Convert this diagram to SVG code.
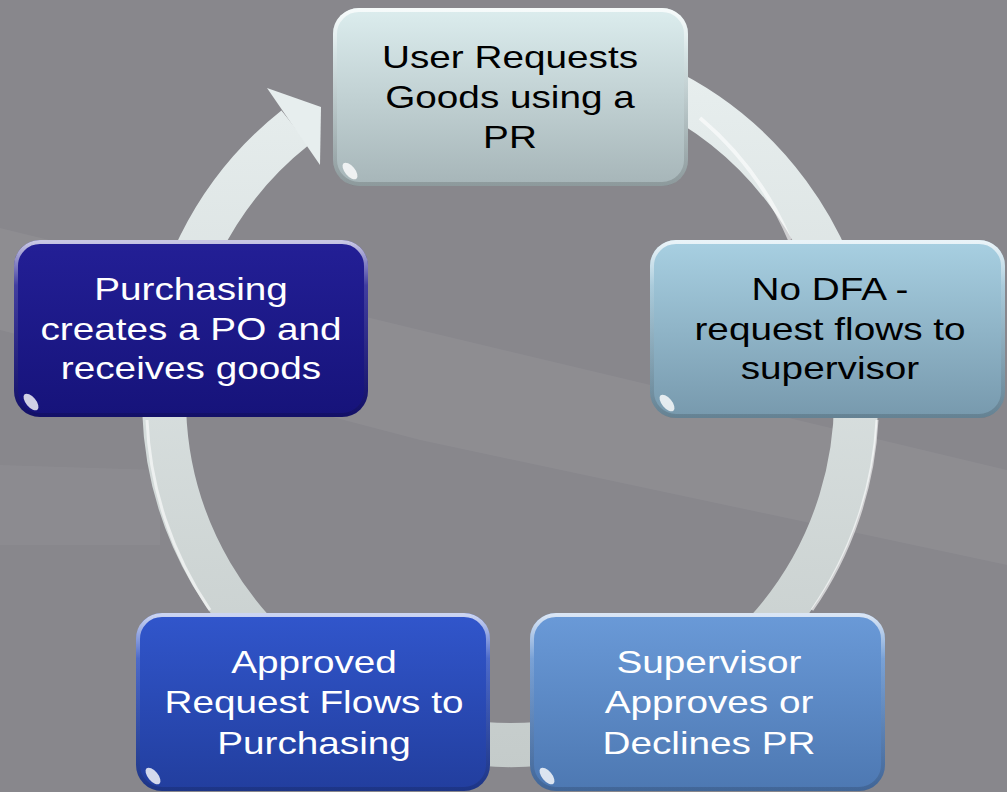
<svg xmlns="http://www.w3.org/2000/svg" width="1007" height="792" viewBox="0 0 1007 792">
<defs>
<linearGradient id="ringG" gradientUnits="userSpaceOnUse" x1="0" y1="40" x2="0" y2="770">
<stop offset="0" stop-color="#e9f0f0"/><stop offset="1" stop-color="#c4cbca"/>
</linearGradient>
<linearGradient id="g1" x1="0" y1="0" x2="0" y2="1"><stop offset="0" stop-color="#dcedee"/><stop offset="1" stop-color="#a6b5b8"/></linearGradient>
<linearGradient id="g2" x1="0" y1="0" x2="0" y2="1"><stop offset="0" stop-color="#a8d0e2"/><stop offset="1" stop-color="#7799ad"/></linearGradient>
<linearGradient id="g3" x1="0" y1="0" x2="0" y2="1"><stop offset="0" stop-color="#6a9ad8"/><stop offset="1" stop-color="#4d78b2"/></linearGradient>
<linearGradient id="g4" x1="0" y1="0" x2="0" y2="1"><stop offset="0" stop-color="#3156cc"/><stop offset="1" stop-color="#223e9e"/></linearGradient>
<linearGradient id="g5" x1="0" y1="0" x2="0" y2="1"><stop offset="0" stop-color="#231f96"/><stop offset="1" stop-color="#16137a"/></linearGradient>
<linearGradient id="bevel" x1="0" y1="0" x2="0" y2="1"><stop offset="0" stop-color="#ffffff" stop-opacity="0.75"/><stop offset="0.25" stop-color="#ffffff" stop-opacity="0.15"/><stop offset="1" stop-color="#000000" stop-opacity="0.15"/></linearGradient>
</defs>
<style>
.node{stroke:none}
.bev{fill:none;stroke:url(#bevel);stroke-width:4}
.spot{fill:#ffffff;opacity:0.8}
.t{font-family:"Liberation Sans",Arial,sans-serif;font-size:32px;text-anchor:middle}
.dark{fill:#000000}
.light{fill:#ffffff}
</style>
<rect x="0" y="0" width="1007" height="792" fill="#88878c"/>
<polygon points="0,228 420,330 1007,470 1007,565 420,440 0,330" fill="#ffffff" opacity="0.05"/>
<polygon points="0,465 160,470 160,545 0,545" fill="#ffffff" opacity="0.04"/>
<g id="connectors">
<path d="M 510 53 A 346 346 0 1 1 295.1 127.8" fill="none" stroke="url(#ringG)" stroke-width="44"/>
<path d="M 700 118 A 328 328 0 0 1 790 240" fill="none" stroke="#ffffff" stroke-opacity="0.6" stroke-width="4"/>
<path d="M 147 420 A 366 366 0 0 0 210 610" fill="none" stroke="#ffffff" stroke-opacity="0.6" stroke-width="3"/>
<path d="M 877 420 A 366 366 0 0 1 812 610" fill="none" stroke="#ffffff" stroke-opacity="0.6" stroke-width="3"/>
<polygon points="267,88 321,107 320,165" fill="#e7eeee"/>
</g>
<g id="node-user-requests">
<rect class="node" x="333" y="8" width="355" height="178" rx="26" fill="url(#g1)"/>
<rect class="bev" x="335" y="10" width="351" height="174" rx="24"/>
<ellipse class="spot" cx="350" cy="171" rx="5" ry="10" transform="rotate(-40 350 171)"/>
<g transform="translate(510 0) scale(1.21 1)">
<text class="t dark" x="0" y="68">User Requests</text>
<text class="t dark" x="0" y="108">Goods using a</text>
<text class="t dark" x="0" y="148">PR</text>
</g>
</g>
<g id="node-no-dfa">
<rect class="node" x="650" y="240" width="355" height="178" rx="26" fill="url(#g2)"/>
<rect class="bev" x="652" y="242" width="351" height="174" rx="24"/>
<ellipse class="spot" cx="667" cy="403" rx="5" ry="10" transform="rotate(-40 667 403)"/>
<g transform="translate(830 0) scale(1.21 1)">
<text class="t dark" x="0" y="300">No DFA -</text>
<text class="t dark" x="0" y="340">request flows to</text>
<text class="t dark" x="0" y="379">supervisor</text>
</g>
</g>
<g id="node-supervisor">
<rect class="node" x="530" y="613" width="355" height="178" rx="26" fill="url(#g3)"/>
<rect class="bev" x="532" y="615" width="351" height="174" rx="24"/>
<ellipse class="spot" cx="547" cy="776" rx="5" ry="10" transform="rotate(-40 547 776)"/>
<g transform="translate(709 0) scale(1.21 1)">
<text class="t light" x="0" y="673">Supervisor</text>
<text class="t light" x="0" y="713">Approves or</text>
<text class="t light" x="0" y="754">Declines PR</text>
</g>
</g>
<g id="node-approved">
<rect class="node" x="136" y="613" width="354" height="178" rx="26" fill="url(#g4)"/>
<rect class="bev" x="138" y="615" width="350" height="174" rx="24"/>
<ellipse class="spot" cx="153" cy="776" rx="5" ry="10" transform="rotate(-40 153 776)"/>
<g transform="translate(314 0) scale(1.21 1)">
<text class="t light" x="0" y="673">Approved</text>
<text class="t light" x="0" y="713">Request Flows to</text>
<text class="t light" x="0" y="754">Purchasing</text>
</g>
</g>
<g id="node-purchasing">
<rect class="node" x="14" y="240" width="354" height="177" rx="26" fill="url(#g5)"/>
<rect class="bev" x="16" y="242" width="350" height="173" rx="24"/>
<ellipse class="spot" cx="31" cy="402" rx="5" ry="10" transform="rotate(-40 31 402)"/>
<g transform="translate(191 0) scale(1.21 1)">
<text class="t light" x="0" y="300">Purchasing</text>
<text class="t light" x="0" y="340">creates a PO and</text>
<text class="t light" x="0" y="379">receives goods</text>
</g>
</g>
</svg>
